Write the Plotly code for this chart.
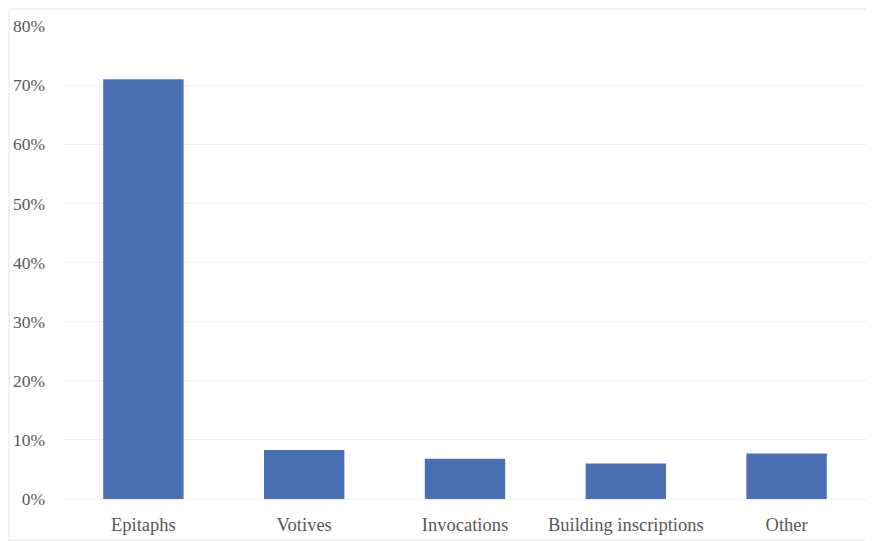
import plotly.graph_objects as go

categories = ["Epitaphs", "Votives", "Invocations", "Building inscriptions", "Other"]
shares = [0.710, 0.083, 0.068, 0.060, 0.077]
y_ticks = [0, 0.1, 0.2, 0.3, 0.4, 0.5, 0.6, 0.7, 0.8]
y_tick_labels = ["0%", "10%", "20%", "30%", "40%", "50%", "60%", "70%", "80%"]

fig = go.Figure(go.Bar(x=categories, y=shares, marker=dict(color="#4A6FB5", line=dict(width=0)),
                       hoverinfo="x+y"))

fig.update_layout(
    width=866, height=533,
    margin=dict(l=55, r=7, t=18, b=42),
    paper_bgcolor="white", plot_bgcolor="white",
    bargap=0.5, showlegend=False,
    font=dict(family="Liberation Serif, DejaVu Serif, serif", size=18, color="#595959"),
    xaxis=dict(showgrid=False, showline=False, ticks="", tickfont=dict(size=18.5),
               automargin=False, ticklabelstandoff=12),
    yaxis=dict(range=[0, 0.8], tickvals=y_ticks, ticktext=y_tick_labels,
               showgrid=True, gridcolor="#EFEFEF", gridwidth=1,
               zeroline=True, zerolinecolor="#EFEFEF", zerolinewidth=1,
               showline=False, ticks="", ticklabelstandoff=17, tickfont=dict(size=17.5),
               automargin=False),
)
fig.add_shape(type="rect", xref="paper", yref="paper", x0=-54/804, x1=1+6/804, y0=-41/473, y1=1+17/473,
              line=dict(color="#E6E6E6", width=1), layer="below")

fig.write_html("out.html")
